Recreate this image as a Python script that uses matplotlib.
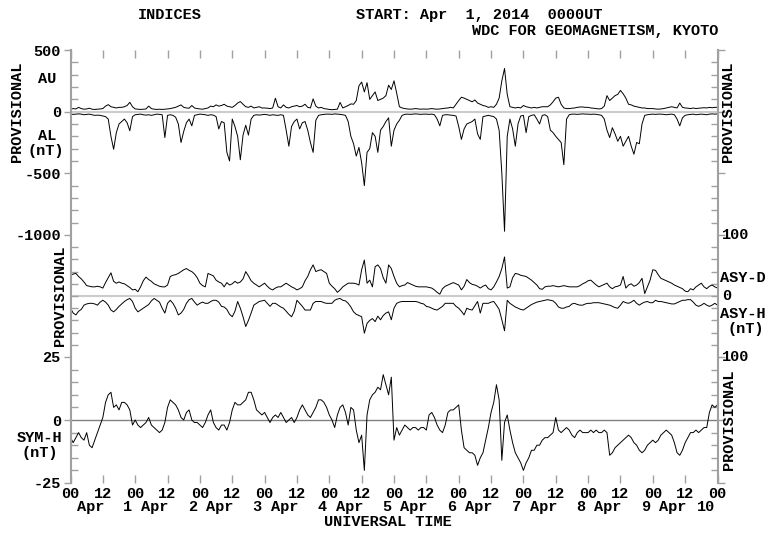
import numpy as np
import matplotlib
matplotlib.use("Agg")
import matplotlib.pyplot as plt
from matplotlib import transforms

# hourly values, 2014-04-01 00UT .. 2014-04-11 00UT
hours = np.arange(241)

au = (
    [20, 25, 22, 35, 25, 20, 22, 28, 20, 18, 20, 22, 25, 45, 57, 40, 35, 30, 35, 35, 40, 50, 76, 40] +
    [22, 20, 18, 20, 22, 45, 25, 20, 18, 20, 18, 20, 22, 25, 30, 35, 45, 55, 35, 30, 28, 50, 30, 25] +
    [22, 20, 25, 30, 45, 40, 55, 45, 50, 60, 45, 40, 35, 50, 70, 82, 60, 40, 35, 45, 30, 35, 40, 30] +
    [30, 28, 25, 30, 109, 40, 30, 55, 35, 30, 40, 45, 50, 40, 45, 60, 35, 30, 104, 45, 30, 35, 25, 22] +
    [18, 16, 18, 20, 75, 30, 40, 50, 63, 60, 90, 210, 240, 160, 235, 100, 130, 160, 90, 100, 110, 130, 215, 180] +
    [250, 150, 40, 30, 25, 22, 20, 22, 25, 22, 20, 22, 20, 22, 25, 22, 20, 22, 25, 28, 30, 35, 30, 60] +
    [90, 117, 110, 100, 90, 80, 95, 70, 60, 50, 45, 35, 40, 35, 60, 110, 250, 350, 140, 40, 35, 30, 35, 30] +
    [50, 40, 35, 30, 35, 30, 35, 40, 40, 40, 55, 80, 110, 117, 60, 30, 25, 25, 28, 30, 35, 38, 38, 35] +
    [35, 30, 28, 25, 22, 25, 45, 130, 90, 110, 130, 140, 172, 145, 110, 60, 55, 45, 40, 35, 30, 30, 25, 25] +
    [25, 22, 20, 22, 25, 30, 35, 40, 35, 30, 70, 35, 30, 28, 25, 30, 25, 28, 30, 32, 30, 35, 32, 35, 35]
)

al = (
    [-20, -22, -20, -18, -20, -25, -22, -20, -25, -30, -28, -30, -35, -40, -60, -200, -305, -170, -100, -80, -60, -90, -155, -40] +
    [-25, -22, -20, -25, -28, -25, -30, -25, -20, -22, -25, -210, -30, -25, -30, -45, -100, -250, -160, -90, -60, -115, -30, -25] +
    [-20, -22, -25, -30, -25, -28, -40, -140, -80, -90, -330, -400, -60, -120, -200, -390, -190, -110, -190, -60, -30, -25, -28, -25] +
    [-22, -25, -30, -25, -28, -30, -25, -30, -150, -280, -120, -80, -60, -140, -90, -80, -150, -250, -330, -70, -30, -25, -22, -20] +
    [-20, -22, -18, -20, -22, -25, -30, -80, -200, -260, -360, -290, -415, -600, -330, -300, -170, -200, -330, -150, -120, -80, -50, -280] +
    [-150, -100, -70, -30, -22, -20, -22, -20, -18, -20, -22, -20, -20, -22, -20, -25, -60, -115, -30, -25, -25, -28, -30, -35] +
    [-120, -225, -140, -100, -90, -80, -60, -180, -225, -40, -35, -30, -35, -40, -60, -150, -500, -970, -200, -60, -140, -280, -100, -35] +
    [-30, -170, -40, -30, -25, -60, -100, -30, -25, -40, -150, -170, -200, -225, -250, -430, -60, -25, -20, -20, -22, -20, -18, -20] +
    [-20, -22, -20, -22, -25, -30, -60, -150, -210, -130, -180, -240, -200, -280, -240, -200, -280, -345, -250, -260, -100, -30, -25, -22] +
    [-20, -22, -20, -20, -22, -25, -22, -20, -25, -60, -115, -50, -30, -25, -22, -20, -25, -22, -20, -22, -25, -20, -18, -20, -18]
)

asy_d = (
    [34, 36, 37, 32, 28, 23, 17, 16, 15, 15, 16, 15, 13, 22, 30, 38, 24, 21, 23, 21, 20, 17, 14, 10] +
    [11, 7, 15, 25, 31, 27, 24, 20, 18, 16, 15, 15, 18, 32, 34, 35, 37, 40, 43, 45, 42, 40, 36, 30] +
    [21, 17, 15, 37, 35, 33, 26, 23, 21, 15, 22, 18, 20, 24, 21, 23, 28, 40, 33, 25, 21, 18, 15, 18] +
    [21, 16, 12, 10, 13, 15, 15, 18, 21, 18, 15, 13, 10, 12, 15, 25, 32, 43, 51, 40, 42, 43, 40, 37] +
    [21, 16, 12, 6, 10, 15, 18, 21, 21, 21, 20, 18, 43, 59, 21, 26, 15, 48, 51, 45, 30, 21, 51, 45] +
    [32, 21, 15, 17, 18, 22, 20, 18, 16, 15, 15, 15, 15, 14, 13, 10, 6, 3, 12, 16, 18, 20, 22, 20] +
    [18, 10, 16, 27, 22, 19, 18, 16, 13, 16, 18, 12, 10, 15, 23, 32, 45, 64, 13, 15, 30, 37, 36, 34] +
    [33, 32, 29, 26, 22, 18, 12, 11, 15, 16, 16, 17, 16, 15, 16, 17, 16, 15, 15, 15, 15, 17, 20, 22] +
    [25, 26, 22, 18, 15, 17, 19, 21, 15, 12, 15, 16, 18, 32, 13, 18, 20, 16, 18, 22, 29, 4, 15, 26] +
    [43, 42, 35, 29, 27, 25, 23, 21, 18, 16, 14, 12, 8, 7, 12, 10, 15, 18, 21, 15, 12, 16, 18, 15, 13]
)

asy_h = (
    [20, 28, 31, 25, 22, 15, 13, 12, 12, 13, 15, 10, 7, 10, 15, 23, 26, 22, 17, 13, 9, 6, 4, 9] +
    [20, 26, 23, 20, 17, 14, 8, 4, 7, 10, 20, 28, 12, 7, 12, 20, 31, 28, 22, 12, 6, 4, 10, 15] +
    [12, 10, 12, 12, 9, 7, 7, 10, 17, 18, 22, 30, 34, 25, 9, 20, 34, 50, 40, 28, 15, 12, 9, 8] +
    [7, 12, 17, 12, 12, 15, 18, 20, 25, 30, 34, 25, 7, 12, 17, 23, 23, 23, 12, 9, 9, 9, 11, 12] +
    [12, 12, 7, 5, 4, 7, 8, 12, 18, 26, 30, 32, 34, 61, 45, 40, 37, 42, 33, 39, 32, 28, 26, 39] +
    [20, 12, 10, 9, 9, 9, 9, 9, 9, 10, 12, 13, 17, 18, 20, 22, 23, 20, 17, 12, 12, 12, 12, 17] +
    [20, 25, 31, 20, 22, 23, 16, 9, 28, 12, 12, 12, 10, 9, 15, 22, 39, 57, 7, 12, 15, 18, 20, 22] +
    [23, 20, 17, 14, 12, 10, 9, 8, 7, 6, 7, 8, 12, 18, 20, 20, 18, 17, 13, 12, 14, 15, 15, 13] +
    [12, 12, 11, 11, 11, 12, 13, 14, 15, 17, 19, 20, 15, 9, 11, 12, 10, 7, 12, 15, 12, 10, 9, 11] +
    [11, 7, 9, 9, 10, 11, 12, 13, 13, 11, 9, 7, 7, 6, 6, 10, 15, 17, 15, 12, 15, 17, 15, 12, 15]
)

sym_h = (
    [-7, -9, -7, -5, -7, -8, -5, -10, -11, -8, -5, -2, 1, 7, 10, 11, 5, 6, 4, 7, 7, 6, 4, -2] +
    [0, -2, -3, -2, -1, 1, -2, -3, -4, -5, -4, -1, 5, 8, 7, 6, 4, 1, 0, 3, 4, 0, -1, -1] +
    [-2, -3, -1, 2, 4, -1, -3, -4, -2, -2, -4, -1, 4, 7, 6, 6, 7, 8, 11, 11, 8, 4, 3, 2] +
    [3, 1, -1, 1, 2, 1, 3, 1, -1, 0, 1, -1, 1, 4, 6, 4, 2, 1, 3, 5, 8, 8, 7, 5] +
    [2, 0, -3, 2, 5, 6, 3, -2, 5, 4, -4, -9, -6, -20, 2, 8, 10, 11, 13, 12, 18, 14, 10, 17] +
    [-8, -3, -6, -4, -2, -3, -4, -3, -3, -4, -3, -3, -4, 2, 3, 1, -2, -4, -5, -2, 3, 4, 4, 5] +
    [6, -4, -11, -12, -13, -13, -14, -18, -15, -13, -8, -3, 3, 7, 14, 8, -16, -1, 2, -4, -9, -13, -15, -17] +
    [-20, -17, -15, -12, -12, -10, -10, -8, -7, -7, -6, -5, 1, -4, -5, -4, -3, -4, -6, -7, -5, -4, -5, -5] +
    [-5, -4, -5, -4, -5, -5, -4, -5, -14, -13, -11, -10, -9, -8, -7, -6, -7, -9, -10, -12, -13, -12, -10, -9] +
    [-8, -9, -8, -6, -5, -4, -5, -6, -9, -13, -14, -12, -9, -7, -5, -5, -4, -5, -4, -3, -3, 3, 6, 5, 6]
)

tick_labels = ["00", "12"] * 10 + ["00"]
day_labels = ["1", "2", "3", "4", "5", "6", "7", "8", "9", "10"]

W, H = 772, 536
MONO = "Liberation Mono"
FS = 11
GRAY = "#a0a0a0"

fig = plt.figure(figsize=(W / 100, H / 100), dpi=100)


def ftext(x, y, s, **kw):
    kw.setdefault("ha", "center")
    kw.setdefault("va", "center")
    fig.text(x / W, 1 - y / H, s, fontfamily=MONO, fontweight="bold", fontsize=FS, **kw)


def panel(top, bottom):
    ax = fig.add_axes([70.5 / W, 1 - bottom / H, 647 / W, (bottom - top) / H])
    ax.set_xlim(0, 240)
    ax.patch.set_alpha(0)
    for s in ("top", "bottom"):
        ax.spines[s].set_visible(False)
    for s in ("left", "right"):
        ax.spines[s].set_color(GRAY)
        ax.spines[s].set_linewidth(1.5)
    ax.tick_params(axis="y", which="both", left=True, right=True, colors=GRAY,
                   labelcolor="black", labelsize=FS, width=1)
    ax.tick_params(axis="y", which="major", direction="out", length=5, pad=2)
    ax.tick_params(axis="y", which="minor", direction="in", length=5)
    for lab in ax.get_yticklabels():
        lab.set_fontfamily(MONO)
    return ax


# top panel: AU / AL
ax1 = panel(50, 235)
ax1.set_ylim(-1000, 500)
ax1.axhline(0, color="#cccccc", lw=1.5, zorder=1)
ax1.plot(hours, au, color="black", lw=0.7, zorder=2)
ax1.plot(hours, al, color="black", lw=0.7, zorder=2)
ax1.set_yticks([500, 0, -500, -1000], ["500", "0", "-500", "-1000"],
               fontfamily=MONO, fontweight="bold", fontsize=FS)
ax1.set_yticks(np.arange(-900, 500, 100), minor=True)
ax1.xaxis.set_ticks_position("top")
ax1.set_xticks(np.arange(0, 241, 12))
ax1.tick_params(axis="x", direction="in", length=6, colors=GRAY, width=1, labeltop=False)

# middle panel: ASY-D up, ASY-H down
ax2 = panel(235, 357)
ax2.set_ylim(-100, 100)
ax2.axhline(0, color="#cccccc", lw=1.5, zorder=1)
ax2.plot(hours, asy_d, color="black", lw=0.7, zorder=2)
ax2.plot(hours, -np.array(asy_h), color="black", lw=0.7, zorder=2)
ax2.set_yticks([])
ax2.set_yticks(np.arange(-80, 100, 20), minor=True)
ax2.set_xticks([])

# bottom panel: SYM-H
ax3 = panel(357, 483)
ax3.set_ylim(-25, 25)
ax3.axhline(0, color="#808080", lw=1, zorder=1)
ax3.plot(hours, sym_h, color="black", lw=0.7, zorder=2)
ax3.set_yticks([25, 0, -25], ["25", "0", "-25"],
               fontfamily=MONO, fontweight="bold", fontsize=FS)
ax3.set_yticks(np.arange(-20, 25, 5), minor=True)
ax3.set_xticks(np.arange(0, 241, 12), tick_labels,
               fontfamily=MONO, fontweight="bold", fontsize=FS)
ax3.tick_params(axis="x", direction="in", length=6, colors=GRAY, width=1,
                labelcolor="black", pad=3)

# second row of x labels
tr = transforms.blended_transform_factory(ax3.transData, fig.transFigure)
for d in range(10):
    ax3.text(24 * d + 7.4, 1 - 507 / H, "Apr", transform=tr, ha="center", va="center",
             fontfamily=MONO, fontweight="bold", fontsize=FS)
    xd = 24 * d + 21.3 if d < 9 else 235.8
    ax3.text(xd, 1 - 507 / H, day_labels[d], transform=tr, ha="center", va="center",
             fontfamily=MONO, fontweight="bold", fontsize=FS)

# header
ftext(138, 15, "INDICES", ha="left")
ftext(356, 15, "START: Apr  1, 2014  0000UT", ha="left")
ftext(718, 31, "WDC FOR GEOMAGNETISM, KYOTO", ha="right")

# left labels
ftext(17, 112, "PROVISIONAL", rotation=90)
ftext(47, 79, "AU")
ftext(47, 136, "AL")
ftext(46, 151, "(nT)")
ftext(60, 296, "PROVISIONAL", rotation=90)
ftext(40, 438, "SYM-H")
ftext(40, 453, "(nT)")

# right labels
ftext(728, 112, "PROVISIONAL", rotation=90)
ftext(722, 235, "100", ha="left")
ftext(720, 278, "ASY-D", ha="left")
ftext(722, 296, "0", ha="left")
ftext(720, 314, "ASY-H", ha="left")
ftext(727, 329, "(nT)", ha="left")
ftext(722, 357, "100", ha="left")
ftext(729, 420, "PROVISIONAL", rotation=90)

ftext(388, 522, "UNIVERSAL TIME")

fig.savefig("out.png", dpi=100)
